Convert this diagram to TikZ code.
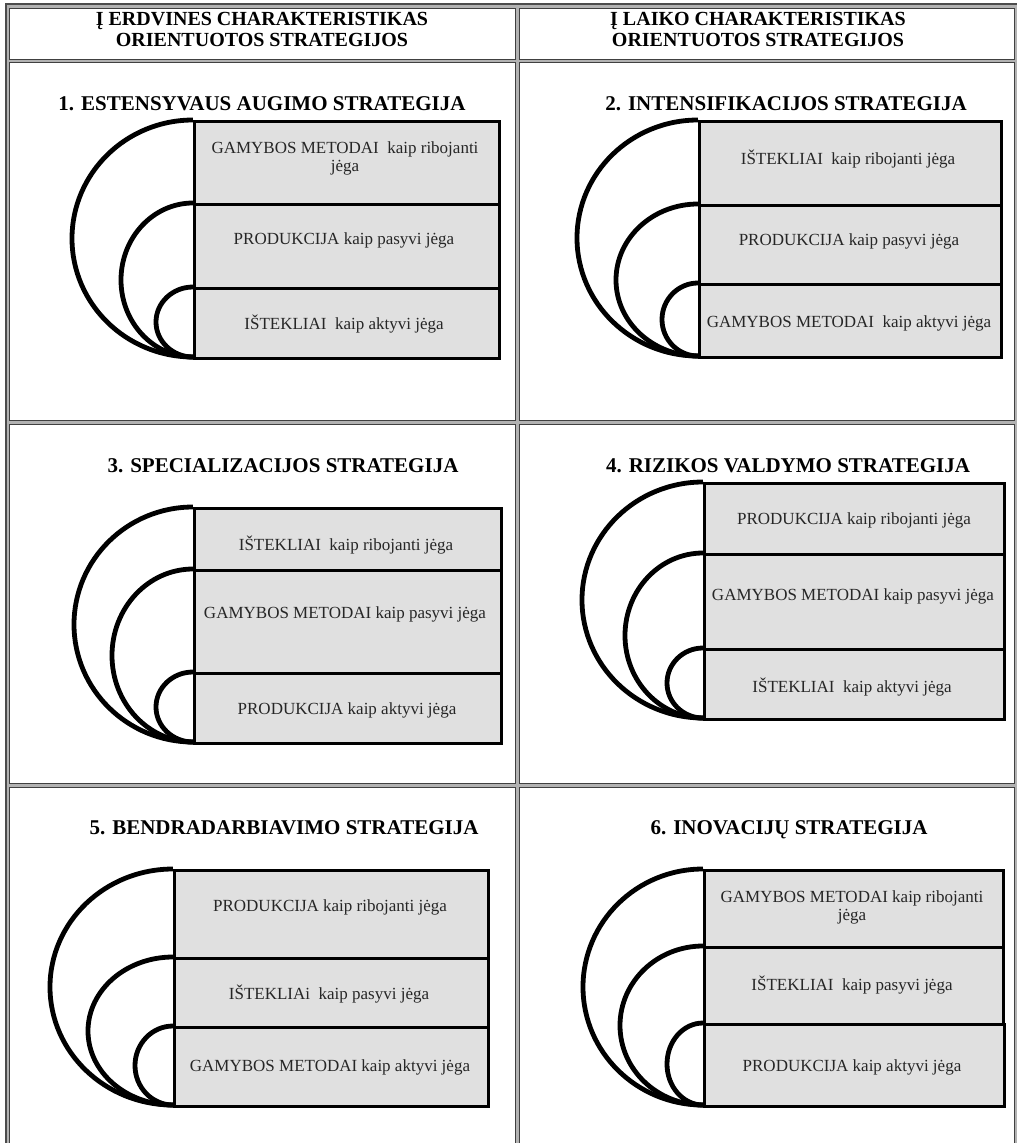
\documentclass[tikz,border=0pt]{standalone}
\usepackage{fontspec}
\setmainfont{Liberation Serif}
\begin{document}
\begin{tikzpicture}[x=1pt,y=-1pt,
  cell/.style={draw=black!75, line width=1pt, fill=white},
  sbox/.style={draw=black, line width=3pt, fill=black!12, anchor=north west, inner sep=0pt},
  arcline/.style={draw=black, line width=4.8pt},
  btext/.style={font=\fontsize{17}{18}\selectfont, text=black!85, align=center, inner sep=0pt, yshift=-2pt},
  ttext/.style={font=\fontsize{21}{24}\selectfont\bfseries, text=black, inner sep=0pt, anchor=base},
  htext/.style={font=\fontsize{20}{22}\selectfont\bfseries, text=black, inner sep=0pt, anchor=base}]
\useasboundingbox (0,0) rectangle (1017,1143);
% table frame
\fill[black!30] (5,3) rectangle (1017,1150);
\draw[black!70, line width=1.2pt] (6,4) rectangle (1018,1150);
\draw[cell] (9,8) rectangle (515,59);
\draw[cell] (519,8) rectangle (1014,59);
\draw[cell] (9,62) rectangle (515,420);
\draw[cell] (519,62) rectangle (1014,420);
\draw[cell] (9,424) rectangle (515,783);
\draw[cell] (519,424) rectangle (1014,783);
\draw[cell] (9,787) rectangle (515,1150);
\draw[cell] (519,787) rectangle (1014,1150);
% headers
\node[htext] (h1a) at (262,25) {Į ERDVINES CHARAKTERISTIKAS};
\node[htext] (h1b) at (262,46) {ORIENTUOTOS STRATEGIJOS};
\node[htext] (h2a) at (758,25) {Į LAIKO CHARAKTERISTIKAS};
\node[htext] (h2b) at (758,46) {ORIENTUOTOS STRATEGIJOS};
% three nested arcs: box left x, top y, two divider ys, bottom y, three x radii
\newcommand{\threearcs}[8]{%
  \draw[arcline] (#1,#2) arc[start angle=-90,end angle=-270,x radius=#6,y radius={(#5-#2)/2}];
  \draw[arcline] (#1,#3) arc[start angle=-90,end angle=-270,x radius=#7,y radius={(#5-#3)/2}];
  \draw[arcline] (#1,#4) arc[start angle=-90,end angle=-270,x radius=#8,y radius={(#5-#4)/2}];
}
% ---------- panel 1
\node[ttext] (p1t) at (262,110) {1. ESTENSYVAUS AUGIMO STRATEGIJA};
\threearcs{193}{120}{203}{287}{357}{121}{72}{37}
\node[sbox, minimum width=305pt, minimum height=83pt] (p1a) at (193,120) {};
\node[sbox, minimum width=305pt, minimum height=84pt] (p1b) at (193,203) {};
\node[sbox, minimum width=305pt, minimum height=70pt] (p1c) at (193,287) {};
\node[btext] (p1at) at (345,156) {GAMYBOS METODAI\ \ kaip ribojanti\\jėga};
\node[btext] (p1bt) at (344,238) {PRODUKCIJA kaip pasyvi jėga};
\node[btext] (p1ct) at (344,322) {IŠTEKLIAI\ \ kaip aktyvi jėga};
% ---------- panel 2
\node[ttext] (p2t) at (786,110) {2. INTENSIFIKACIJOS STRATEGIJA};
\threearcs{698}{120}{204}{283}{356}{121}{82}{36}
\node[sbox, minimum width=302pt, minimum height=84pt] (p2a) at (698,120) {};
\node[sbox, minimum width=302pt, minimum height=79pt] (p2b) at (698,204) {};
\node[sbox, minimum width=302pt, minimum height=73pt] (p2c) at (698,283) {};
\node[btext] (p2at) at (848,157) {IŠTEKLIAI\ \ kaip ribojanti jėga};
\node[btext] (p2bt) at (849,239) {PRODUKCIJA kaip pasyvi jėga};
\node[btext] (p2ct) at (849,321) {GAMYBOS METODAI\ \ kaip aktyvi jėga};
% ---------- panel 3
\node[ttext] (p3t) at (283,472) {3. SPECIALIZACIJOS STRATEGIJA};
\threearcs{193}{507}{569}{672}{742}{119}{81}{37}
\node[sbox, minimum width=307pt, minimum height=62pt] (p3a) at (193,507) {};
\node[sbox, minimum width=307pt, minimum height=103pt] (p3b) at (193,569) {};
\node[sbox, minimum width=307pt, minimum height=70pt] (p3c) at (193,672) {};
\node[btext] (p3at) at (346,543) {IŠTEKLIAI\ \ kaip ribojanti jėga};
\node[btext] (p3bt) at (345,612) {GAMYBOS METODAI kaip pasyvi jėga};
\node[btext] (p3ct) at (347,708) {PRODUKCIJA kaip aktyvi jėga};
% ---------- panel 4
\node[ttext] (p4t) at (788,472) {4. RIZIKOS VALDYMO STRATEGIJA};
\threearcs{703}{482}{553}{648}{718}{121}{78}{36}
\node[sbox, minimum width=300pt, minimum height=71pt] (p4a) at (703,482) {};
\node[sbox, minimum width=300pt, minimum height=95pt] (p4b) at (703,553) {};
\node[sbox, minimum width=300pt, minimum height=70pt] (p4c) at (703,648) {};
\node[btext] (p4at) at (854,518) {PRODUKCIJA kaip ribojanti jėga};
\node[btext] (p4bt) at (853,594) {GAMYBOS METODAI kaip pasyvi jėga};
\node[btext] (p4ct) at (852,685) {IŠTEKLIAI\ \ kaip aktyvi jėga};
% ---------- panel 5
\node[ttext] (p5t) at (284,834) {5. BENDRADARBIAVIMO STRATEGIJA};
\threearcs{173}{869}{957}{1026}{1105}{123}{85}{38}
\node[sbox, minimum width=314pt, minimum height=88pt] (p5a) at (173,869) {};
\node[sbox, minimum width=314pt, minimum height=69pt] (p5b) at (173,957) {};
\node[sbox, minimum width=314pt, minimum height=79pt] (p5c) at (173,1026) {};
\node[btext] (p5at) at (330,905) {PRODUKCIJA kaip ribojanti jėga};
\node[btext] (p5bt) at (329,992) {IŠTEKLIAi\ \ kaip pasyvi jėga};
\node[btext] (p5ct) at (330,1065) {GAMYBOS METODAI kaip aktyvi jėga};
% ---------- panel 6
\node[ttext] (p6t) at (789,834) {6. INOVACIJŲ STRATEGIJA};
\threearcs{703}{869}{946}{1023}{1105}{120}{83}{36}
\node[sbox, minimum width=299pt, minimum height=77pt] (p6a) at (703,869) {};
\node[sbox, minimum width=299pt, minimum height=77pt] (p6b) at (703,946) {};
\node[sbox, minimum width=300pt, minimum height=82pt] (p6c) at (703,1023) {};
\node[btext] (p6at) at (852,905) {GAMYBOS METODAI kaip ribojanti\\jėga};
\node[btext] (p6bt) at (852,983) {IŠTEKLIAI\ \ kaip pasyvi jėga};
\node[btext] (p6ct) at (852,1065) {PRODUKCIJA kaip aktyvi jėga};
\end{tikzpicture}
\end{document}
